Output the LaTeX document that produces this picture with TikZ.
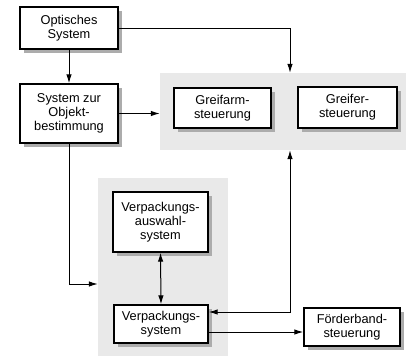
\documentclass[tikz,border=0pt]{standalone}
\usepackage{fontspec}
\setmainfont{Liberation Sans}
\usetikzlibrary{arrows.meta,shadows}
\definecolor{panel}{HTML}{E9E9E9}
\begin{document}
\begin{tikzpicture}[x=1pt,y=-1pt,
  box/.style={draw=black, line width=1.4pt, fill=white, align=center,
    inner sep=0pt, font=\fontsize{12.8}{14.2}\selectfont,
    drop shadow={shadow xshift=3.5pt, shadow yshift=-3.5pt, fill=gray!65, opacity=1}},
  panel/.style={fill=panel, draw=none, inner sep=0pt},
  tip/.tip={Latex[length=9pt,width=5.5pt]},
  link/.style={line width=1pt, -tip},
  dlink/.style={line width=1pt, tip-tip}]
\useasboundingbox (0,0) rectangle (406,356);
\fill[white] (0,0) rectangle (406,356);

% shaded groups
\node[panel, minimum width=246pt, minimum height=77pt] (reg1) at (283,111.5) {};
\node[panel, minimum width=130pt, minimum height=178pt] (reg2) at (163,267) {};

% blocks
\node[box, minimum width=98pt, minimum height=42pt] (opt) at (69,28) {Optisches\\System};
\node[box, minimum width=98pt, minimum height=59pt] (sys) at (69,113.5) {System zur\\Objekt-\\bestimmung};
\node[box, minimum width=97pt, minimum height=40pt] (arm) at (222.5,108) {Greifarm-\\steuerung};
\node[box, minimum width=99pt, minimum height=41pt] (grf) at (347.5,107.5) {Greifer-\\steuerung};
\node[box, minimum width=95pt, minimum height=60pt] (vaus) at (160.5,222) {Verpackungs-\\auswahl-\\system};
\node[box, minimum width=94pt, minimum height=38pt] (vsys) at (161,324) {Verpackungs-\\system};
\node[box, minimum width=96pt, minimum height=38pt] (band) at (352,327) {Förderband-\\steuerung};

% routing helpers
\coordinate (gx) at (290,0);
\coordinate (ya) at (0,284);
\coordinate (yb) at (0,312);
\coordinate (yc) at (0,332);

% connectors
\draw[link] (opt.south) -- (sys.north);
\draw[link] (opt.east) -| (gx |- reg1.north);
\draw[link] (sys.east) -- (sys.east -| reg1.west);
\draw[link] (sys.south) |- (reg2.west |- ya);
\draw[dlink] (vaus.south) -- (vsys.north);
\draw[dlink] (vsys.east |- yb) -| (gx |- reg1.south);
\draw[link] (vsys.east |- yc) -- (band.west |- yc);
\end{tikzpicture}
\end{document}
